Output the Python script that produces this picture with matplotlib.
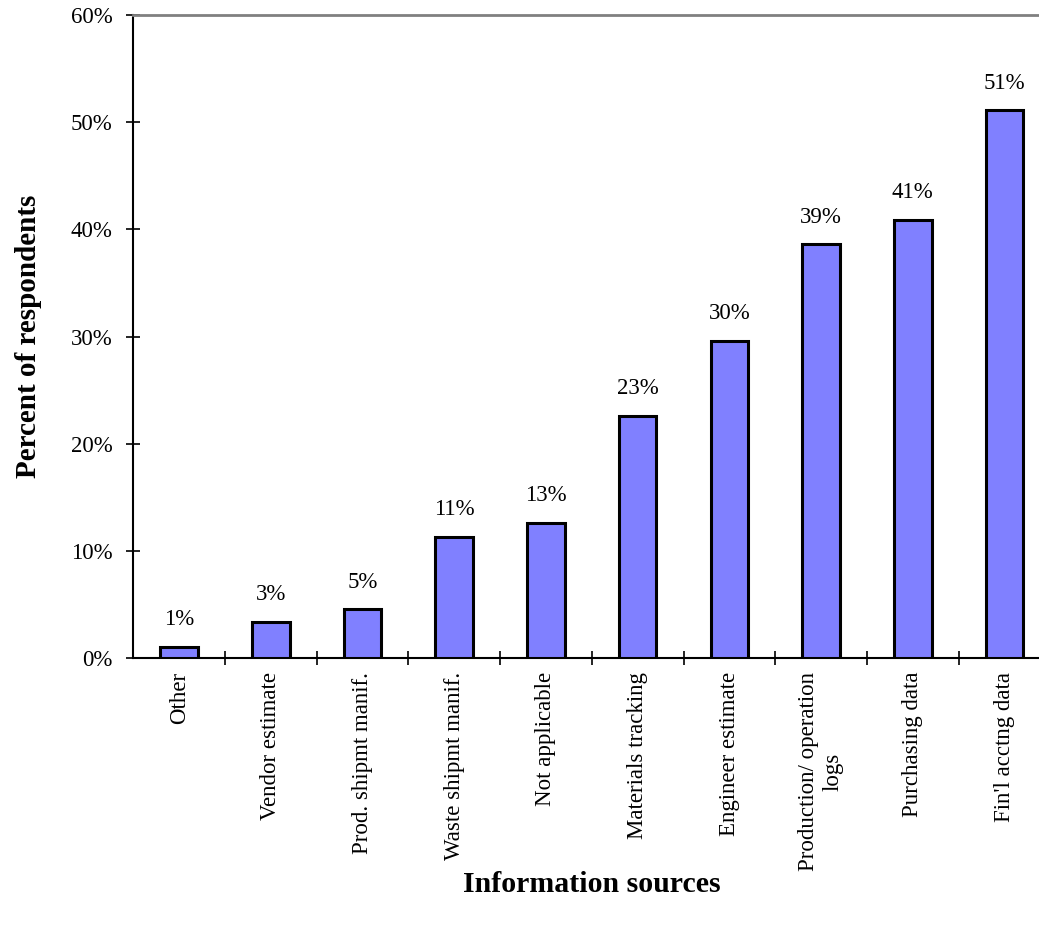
import numpy as np
import matplotlib
matplotlib.use("Agg")
import matplotlib.pyplot as plt

plt.rcParams['font.family'] = ['Liberation Serif', 'DejaVu Serif']

sources = ["Other", "Vendor estimate", "Prod. shipmt manif.", "Waste shipmt manif.",
           "Not applicable", "Materials tracking", "Engineer estimate",
           "Production/ operation\nlogs", "Purchasing data", "Fin'l acctng data"]
pct = [1.05, 3.4, 4.55, 11.3, 12.6, 22.6, 29.6, 38.6, 40.9, 51.1]
yticks = [0, 10, 20, 30, 40, 50, 60]

fig = plt.figure(figsize=(10.39, 9.26), dpi=100)
# plot area runs past the right edge, like the original sheet export
ax = fig.add_axes([0.1283, 0.2894, 0.8826, 0.6944])

x = np.arange(len(sources)) + 0.5
bars = ax.bar(x, pct, width=0.41, color='#8080FF', edgecolor='black', linewidth=2.2, zorder=3)

for xi, v in zip(x, pct):
    ax.annotate('%.0f%%' % v, (xi, v), xytext=(0, 15.5), textcoords='offset points',
                ha='center', va='baseline', fontsize=16.5)

ax.set_xlim(0, len(sources))
ax.set_ylim(0, 60)
ax.set_yticks(yticks)
ax.set_yticklabels(['%d%%' % t for t in yticks], fontsize=16.5)

# category ticks sit between the bars, labels at the bar centres
ax.set_xticks(np.arange(1, len(sources)))
ax.set_xticklabels([])
ax.set_xticks(x, minor=True)
ax.set_xticklabels(sources, minor=True, rotation=90, fontsize=16.5,
                   ha='center', va='top', multialignment='center')
ax.tick_params(axis='x', which='minor', length=0, pad=10)
ax.tick_params(axis='both', which='major', direction='inout', length=10, width=1.2)
ax.tick_params(axis='y', pad=10)

for side in ['left', 'bottom']:
    ax.spines[side].set_linewidth(1.5)
ax.spines['top'].set_color('#808080')
ax.spines['top'].set_linewidth(2)
ax.spines['right'].set_visible(False)

ax.set_ylabel('Percent of respondents', fontsize=21, fontweight='bold')
ax.yaxis.set_label_coords(-0.1148, 0.5)
ax.yaxis.label.set_va('center')
ax.set_xlabel('Information sources', fontsize=21.5, fontweight='bold')
ax.xaxis.set_label_coords(0.5, -0.3515)
ax.xaxis.label.set_va('center')

fig.savefig('out.png', dpi=100)
